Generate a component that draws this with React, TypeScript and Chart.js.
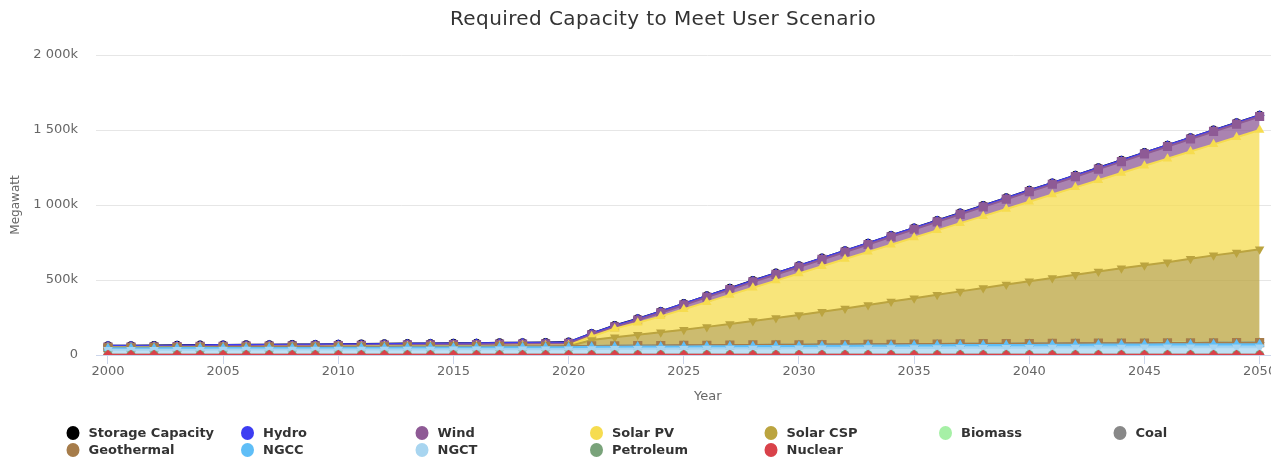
import { useEffect, useRef } from 'react';
import { Chart, registerables } from 'chart.js';

Chart.register(...registerables);

// ---- data (values in thousands of MW, i.e. "k") ----
const years = [
  2000, 2001, 2002, 2003, 2004, 2005, 2006, 2007, 2008, 2009,
  2010, 2011, 2012, 2013, 2014, 2015, 2016, 2017, 2018, 2019,
  2020, 2021, 2022, 2023, 2024, 2025, 2026, 2027, 2028, 2029,
  2030, 2031, 2032, 2033, 2034, 2035, 2036, 2037, 2038, 2039,
  2040, 2041, 2042, 2043, 2044, 2045, 2046, 2047, 2048, 2049, 2050,
];

const xTickYears = [2000, 2005, 2010, 2015, 2020, 2025, 2030, 2035, 2040, 2045, 2050];
const yTickValues = [0, 500, 1000, 1500, 2000];
const yTickLabels = ['0', '500k', '1 000k', '1 500k', '2 000k'];

const storageCapacity = [
  1, 1, 1, 1, 1, 1, 1, 1, 1, 1, 1, 1, 1, 1, 1, 1, 1, 1, 1, 1, 1,
  1, 1, 1, 1, 1, 1, 1, 1, 1, 1, 1, 1, 1, 1, 1, 1, 1, 1, 1, 1, 1, 1, 1, 1, 1, 1, 1, 1, 1, 1,
];
const hydro = [
  8, 8, 8, 8, 8, 8, 8, 8, 8, 8, 8, 8, 8, 8, 8, 8, 8, 8, 8, 8, 8,
  8, 8, 8, 8, 8, 8, 8, 8, 8, 8, 8, 8, 8, 8, 8, 8, 8, 8, 8, 8, 8, 8, 8, 8, 8, 8, 8, 8, 8, 8,
];
const wind = [
  3, 3, 3.5, 4, 4, 4.5, 5, 5, 5.5, 6, 6.5, 7, 7.5, 8, 8.5, 9, 9.5, 10, 10.5, 11, 12,
  12, 12, 18, 24, 29, 33, 35, 39, 41, 43, 45, 47, 49, 53, 55, 57, 59, 62, 65, 67,
  69, 71, 74, 76, 79, 81, 83, 86, 88, 90,
];
const solarPv = [
  1, 1, 1, 1, 1.5, 1.5, 1.5, 2, 2, 2, 2.5, 2.5, 3, 3, 3.5, 4, 4, 4.5, 5, 5.5, 6,
  23, 58, 80, 106, 136, 165, 194, 222, 250, 277, 303, 329, 355, 379, 405, 430, 455, 479, 504, 530,
  556, 582, 608, 635, 663, 690, 715, 740, 768, 795,
];
const solarCsp = [
  0.5, 0.5, 0.5, 0.5, 0.5, 0.5, 0.5, 0.5, 0.5, 0.5, 0.5, 0.5, 0.5, 0.5, 0.5, 0.5, 0.5, 0.5, 0.5, 0.5, 0.5,
  39, 56, 72, 88, 104, 122, 140, 159, 178, 198, 219, 240, 261, 284, 305, 327, 349, 371, 394, 415,
  436, 457, 478, 499, 518, 538, 561, 582, 601, 622,
];
const biomass = [
  0.3, 0.3, 0.3, 0.3, 0.3, 0.3, 0.3, 0.3, 0.3, 0.3, 0.3, 0.3, 0.3, 0.3, 0.3, 0.3, 0.3, 0.3, 0.3, 0.3, 0.3,
  0.3, 0.3, 0.3, 0.3, 0.3, 0.3, 0.3, 0.3, 0.3, 0.3, 0.3, 0.3, 0.3, 0.3, 0.3, 0.3, 0.3, 0.3, 0.3, 0.3,
  0.3, 0.3, 0.3, 0.3, 0.3, 0.3, 0.3, 0.3, 0.3, 0.3,
];
const coal = [
  0.2, 0.2, 0.2, 0.2, 0.2, 0.2, 0.2, 0.2, 0.2, 0.2, 0.2, 0.2, 0.2, 0.2, 0.2, 0.2, 0.2, 0.2, 0.2, 0.2, 0.2,
  0.2, 0.2, 0.2, 0.2, 0.2, 0.2, 0.2, 0.2, 0.2, 0.2, 0.2, 0.2, 0.2, 0.2, 0.2, 0.2, 0.2, 0.2, 0.2, 0.2,
  0.2, 0.2, 0.2, 0.2, 0.2, 0.2, 0.2, 0.2, 0.2, 0.2,
];
const geothermal = [
  4, 4, 4, 4, 4.5, 4.5, 4.5, 4.5, 5, 5, 5, 5, 5, 5.5, 5.5, 5.5, 5.5, 6, 6, 6, 6,
  6, 6.2, 6.4, 6.6, 6.8, 7, 7.2, 7.4, 7.6, 7.8, 8, 8.1, 8.2, 8.3, 8.4, 8.5, 8.6, 8.7, 8.8, 8.9,
  9, 9.1, 9.2, 9.3, 9.4, 9.5, 9.6, 9.7, 9.8, 10,
];
const ngcc = [
  10, 10, 10, 10.5, 10.5, 10.5, 11, 11, 11, 11, 11.5, 11.5, 11.5, 12, 12, 12, 12, 12.5, 12.5, 12.5, 13,
  14, 14, 14.5, 14.5, 15, 15, 15.5, 15.5, 16, 16, 16.5, 16.5, 17, 17, 17.5, 17.5, 18, 18, 18, 18.5,
  18.5, 19, 19, 19, 19.5, 19.5, 19.5, 20, 20, 20,
];
const ngct = [
  32, 32, 32.5, 33, 33, 33.5, 33.5, 34, 34, 34, 34.5, 34.5, 35, 35, 35, 35.5, 35.5, 36, 36, 36, 36.5,
  38, 38.5, 39, 39.5, 40, 40.5, 41, 41.5, 41.5, 42, 42.5, 43, 43.5, 44, 44.5, 45, 45.5, 46, 46, 46.5,
  47, 47.5, 48, 48, 48.5, 49, 49, 49.5, 50, 50,
];
const petroleum = [
  0.5, 0.5, 0.5, 0.5, 0.5, 0.5, 0.5, 0.5, 0.5, 0.5, 0.5, 0.5, 0.5, 0.5, 0.5, 0.5, 0.5, 0.5, 0.5, 0.5, 0.5,
  0.5, 0.5, 0.5, 0.5, 0.5, 0.5, 0.5, 0.5, 0.5, 0.5, 0.5, 0.5, 0.5, 0.5, 0.5, 0.5, 0.5, 0.5, 0.5, 0.5,
  0.5, 0.5, 0.5, 0.5, 0.5, 0.5, 0.5, 0.5, 0.5, 0.5,
];
const nuclear = [
  2, 2, 2, 2, 2, 2, 2, 2, 2, 2, 2, 2, 2, 2, 2, 2, 2, 2, 2, 2, 2,
  2, 2, 2, 2, 2, 2, 2, 2, 2, 2, 2, 2, 2, 2, 2, 2, 2, 2, 2, 2,
  2, 2, 2, 2, 2, 2, 2, 2, 2, 2,
];

const TITLE = 'Required Capacity to Meet User Scenario';
const Y_TITLE = 'Megawatt';
const X_TITLE = 'Year';

// Series in legend order (first = top of stack)
const SERIES = [
  { name: 'Storage Capacity', data: storageCapacity, color: '#000000', point: 'circle', radius: 4.5, rot: 0 },
  { name: 'Hydro', data: hydro, color: '#3d3df2', point: 'rectRot', radius: 5, rot: 0 },
  { name: 'Wind', data: wind, color: '#8e5a95', point: 'rect', radius: 6.5, rot: 0 },
  { name: 'Solar PV', data: solarPv, color: '#f6dc4f', point: 'triangle', radius: 5.5, rot: 0 },
  { name: 'Solar CSP', data: solarCsp, color: '#bba43f', point: 'triangle', radius: 5.5, rot: 180 },
  { name: 'Biomass', data: biomass, color: '#a6f0a6', point: 'circle', radius: 4.5, rot: 0 },
  { name: 'Coal', data: coal, color: '#888888', point: 'rectRot', radius: 5, rot: 0 },
  { name: 'Geothermal', data: geothermal, color: '#a67c4a', point: 'rect', radius: 6.5, rot: 0 },
  { name: 'NGCC', data: ngcc, color: '#5fbef7', point: 'triangle', radius: 5.5, rot: 0 },
  { name: 'NGCT', data: ngct, color: '#a8d5f0', point: 'triangle', radius: 5.5, rot: 180 },
  { name: 'Petroleum', data: petroleum, color: '#79a37a', point: 'circle', radius: 4.5, rot: 0 },
  { name: 'Nuclear', data: nuclear, color: '#d9424a', point: 'rectRot', radius: 5, rot: 0 },
];

function rgba(hex: string, a: number) {
  const n = parseInt(hex.slice(1), 16);
  return `rgba(${(n >> 16) & 255}, ${(n >> 8) & 255}, ${n & 255}, ${a})`;
}

const LEGEND_COLS = [73, 247.5, 422, 596.5, 771, 945.5, 1120];
const LEGEND_ROWS = [433, 450];

const overlayPlugin = {
  id: 'overlay',
  afterDraw(chart: any) {
    const ctx = chart.ctx as CanvasRenderingContext2D;
    ctx.save();
    ctx.fillStyle = '#333333';
    ctx.font = '20px "DejaVu Sans", sans-serif';
    ctx.textAlign = 'center';
    ctx.textBaseline = 'middle';
    (ctx as any).letterSpacing = '0.4px';
    ctx.fillText(TITLE, 663, 20);
    (ctx as any).letterSpacing = '0px';

    ctx.font = 'bold 13px "DejaVu Sans", sans-serif';
    ctx.textAlign = 'left';
    SERIES.forEach((s, i) => {
      const row = Math.floor(i / 7);
      const col = i % 7;
      const cx = LEGEND_COLS[col];
      const cy = LEGEND_ROWS[row];
      ctx.fillStyle = s.color;
      ctx.beginPath();
      ctx.ellipse(cx, cy, 6.5, 7, 0, 0, Math.PI * 2);
      ctx.fill();
      ctx.fillStyle = '#333333';
      ctx.fillText(s.name, cx + 15.5, cy + 0.5);
    });
    ctx.restore();
  },
};

export default function App() {
  const canvasRef = useRef<HTMLCanvasElement | null>(null);

  useEffect(() => {
    if (!canvasRef.current) return;
    Chart.defaults.font.family = '"DejaVu Sans", sans-serif';

    const stackOrder = [...SERIES].reverse();
    const datasets = stackOrder.map((s, i) => ({
      label: s.name,
      data: years.map((yr, k) => ({ x: yr, y: s.data[k] })),
      borderColor: s.color,
      backgroundColor: rgba(s.color, 0.75),
      borderWidth: 2,
      fill: i === 0 ? 'origin' : '-1',
      pointStyle: s.point,
      pointRadius: s.radius,
      pointRotation: s.rot,
      pointBackgroundColor: s.color,
      pointBorderColor: s.color,
      pointBorderWidth: 0,
      tension: 0,
    }));

    const chart = new Chart(canvasRef.current, {
      type: 'line',
      data: { datasets: datasets as any },
      plugins: [overlayPlugin],
      options: {
        animation: false,
        responsive: false,
        devicePixelRatio: 1,
        events: [],
        layout: { padding: { top: 55, bottom: 53, left: 0, right: 4 } },
        plugins: {
          legend: { display: false },
          title: { display: false },
          tooltip: { enabled: false },
        },
        scales: {
          x: {
            type: 'linear',
            min: 1999.48,
            max: 2052.6,
            afterBuildTicks: (s: any) => {
              s.ticks = xTickYears.map((v) => ({ value: v }));
            },
            afterFit: (s: any) => {
              s.height = 52;
            },
            ticks: {
              autoSkip: false,
              maxRotation: 0,
              minRotation: 0,
              padding: 0,
              color: '#666666',
              font: { size: 13 },
              callback: (v: any) => String(v),
            },
            grid: {
              drawOnChartArea: false,
              drawTicks: true,
              tickLength: 9,
              color: '#ccd6eb',
            },
            border: { display: true, color: '#ccd6eb', width: 1 },
            title: {
              display: true,
              text: X_TITLE,
              color: '#666666',
              font: { size: 13 },
              padding: { top: 0, bottom: 3 },
            },
          },
          y: {
            stacked: true,
            min: 0,
            max: 2000,
            afterBuildTicks: (s: any) => {
              s.ticks = yTickValues.map((v) => ({ value: v }));
            },
            afterFit: (s: any) => {
              s.width = 96;
            },
            ticks: {
              padding: 18,
              color: '#666666',
              font: { size: 13 },
              callback: (v: any) => yTickLabels[yTickValues.indexOf(Number(v))] ?? '',
            },
            grid: { color: '#e6e6e6', drawTicks: false },
            border: { display: false },
            title: {
              display: true,
              text: Y_TITLE,
              color: '#666666',
              font: { size: 12 },
              padding: { top: 9, bottom: 0 },
            },
          },
        },
      } as any,
    });

    return () => chart.destroy();
  }, []);

  return (
    <div
      style={{
        position: 'fixed',
        left: 0,
        top: 0,
        width: 1271,
        height: 460,
        overflow: 'hidden',
        background: '#ffffff',
      }}
    >
      <canvas ref={canvasRef} width={1326} height={460} style={{ display: 'block', width: 1326, height: 460 }} />
    </div>
  );
}
